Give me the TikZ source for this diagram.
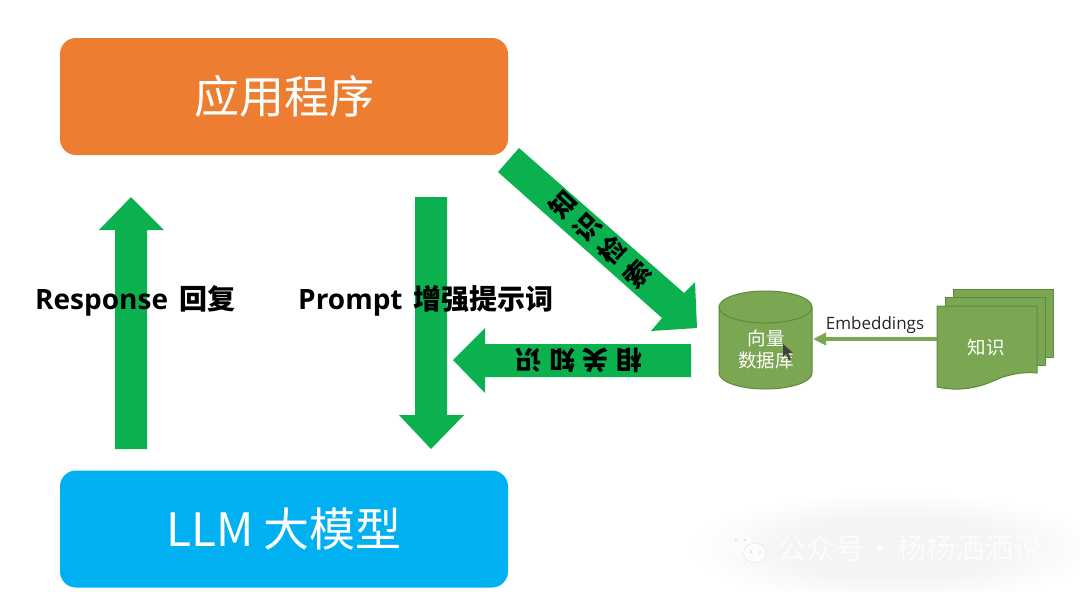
\documentclass[tikz,border=0pt]{standalone}
\usepackage{fontspec}
\setmainfont{Open Sans}
\newfontfamily\cjk{Noto Sans CJK SC}
\usetikzlibrary{arrows.meta,calc,fadings}
\definecolor{orangeb}{HTML}{ED7D31}
\definecolor{blueb}{HTML}{00B0F0}
\definecolor{arrowg}{HTML}{0BB04F}
\definecolor{leaf}{HTML}{7BA652}
\definecolor{leafd}{HTML}{5F8A3E}
\pgfdeclareradialshading{softwmshade}{\pgfpointorigin}{color(0bp)=(white);color(13bp)=(white);color(25bp)=(black);color(50bp)=(black)}
\pgfdeclarefading{softwm}{\pgfuseshading{softwmshade}}
\tikzset{x=1pt,y=-1pt,
 bigbox/.style={rounded corners=16pt,minimum width=448pt,minimum height=117pt,inner sep=0pt,text=white},
 fatarrow/.style={fill=arrowg,draw=none},
 blacklabel/.style={font=\cjk\bfseries\fontsize{26}{34}\selectfont,text=black,inner sep=0pt},
 sidelabel/.style={font=\bfseries\fontsize{28}{30}\selectfont,anchor=west,inner sep=0pt,text=black},
 whitelabel/.style={font=\cjk\fontsize{18.5}{22}\selectfont,text=white,align=center,inner sep=0pt},
 leafshape/.style={fill=leaf,draw=leafd,line width=1pt}}
\begin{document}
\begin{tikzpicture}
\useasboundingbox (0,0) rectangle (1080,592);
\fill[white] (0,0) rectangle (1080,592);
% boxes
\node[bigbox,fill=orangeb,font=\cjk\fontsize{45}{47}\selectfont] (app) at (284,96.5) {应用程序};
\node[bigbox,fill=blueb,font=\cjk\fontsize{46}{48}\selectfont] (llm) at (284,529) {LLM 大模型};
% green arrows
\fill[fatarrow] (115,449) -- (115,230) -- (99,230) -- (131,197) -- (164,230) -- (147,230) -- (147,449) -- cycle;
\fill[fatarrow] (415,197) -- (415,415) -- (399,415) -- (431,449) -- (464,415) -- (447,415) -- (447,197) -- cycle;
\fill[fatarrow] (691,344) -- (485,344) -- (485,328) -- (453,360) -- (485,393) -- (485,377) -- (691,377) -- cycle;
\fill[fatarrow] (519,148) -- (684,293) -- (695,282) -- (697,328) -- (651,331) -- (662,318) -- (498,172) -- cycle;
\node[blacklabel,rotate=180] (lbla) at (579,360.5) {相\hspace{.3em}关\hspace{.3em}知\hspace{.3em}识};
\node[blacklabel,rotate=47,align=center] (lblb) at (600,239) {知\\识\\检\\索};
\node[sidelabel] (resp) at (35,301) {Response\hspace{11pt}{\cjk\bfseries 回复}};
\node[sidelabel] (prom) at (298,301) {Prompt\hspace{11pt}{\cjk\bfseries 增强提示词}};
% cylinder
\path[leafshape] (719,307) -- (719,373) arc[x radius=46.5,y radius=16,start angle=180,end angle=0] -- (812,307) arc[x radius=46.5,y radius=16,start angle=0,end angle=-180] -- cycle;
\draw[leafd,line width=1pt] (719,307) arc[x radius=46.5,y radius=16,start angle=180,end angle=0];
\coordinate (dbE) at (813,339);
\node[whitelabel] (db) at (766,349) {向量\\数据库};
% pointer
\fill[black!75] (783,344) -- (783,357) -- (786,354) -- (789,360) -- (791,359) -- (788,353) -- (793,353) -- cycle;
% documents
\path[leafshape] (953,289) rectangle (1053,357);
\path[leafshape] (945,297) rectangle (1045,365);
\path[leafshape] (937,306) -- (1037,306) -- (1037,373) .. controls (1025,372) and (1015,373) .. (1000,378) .. controls (985,385) and (965,393) .. (937,387) -- cycle;
\node[whitelabel] (kn) at (986,347) {知识};
\coordinate (knW) at (937,339);
\draw[-{Triangle[length=13pt,width=12pt]},leaf,line width=4pt] (knW) -- (dbE);
\node[font=\fontsize{17}{20}\selectfont,inner sep=0pt,text=black!85] (emb) at (875,325) {Embeddings};
% watermark
\fill[black,opacity=.045,path fading=softwm,fit fading=true] (690,492) rectangle (1100,604);
\fill[white!99!black] (740,544) ellipse[x radius=13,y radius=11.5];
\fill[black!8] (755,553) ellipse[x radius=11.8,y radius=10.3];
\fill[white!99!black] (755,553) ellipse[x radius=11,y radius=9.5];
\foreach \px/\py in {736/540,745/540,751/552,760/552} {\fill[black!12] (\px,\py) circle[radius=1.4];}
\node[text=white!99!black,font=\cjk\fontsize{29}{31}\selectfont,anchor=west,inner sep=0pt] (wm) at (777,548) {公众号\hspace{1pt}·\hspace{3pt}杨杨洒洒说};
\end{tikzpicture}
\end{document}
